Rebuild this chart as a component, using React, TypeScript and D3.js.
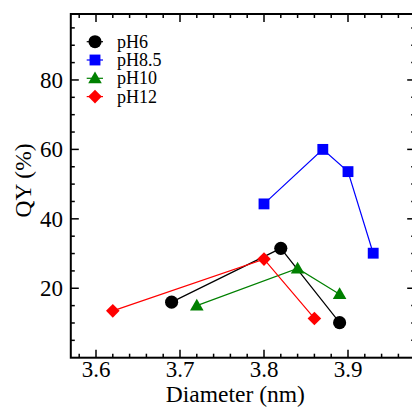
import React, { useEffect, useRef } from 'react';
import * as d3 from 'd3';

// values
const seriesNames = ['pH6', 'pH8.5', 'pH10', 'pH12'];
const seriesColors = ['#000000', '#0000ff', '#008000', '#ff0000'];
const seriesSymbols = ['circle', 'square', 'triangle', 'diamond'];

const ph6Diameter = [3.69, 3.82, 3.89];
const ph6QY = [16.0, 31.5, 10.1];
const ph85Diameter = [3.8, 3.87, 3.9, 3.93];
const ph85QY = [44.3, 60.0, 53.6, 30.1];
const ph10Diameter = [3.72, 3.84, 3.89];
const ph10QY = [15.0, 25.7, 18.3];
const ph12Diameter = [3.62, 3.8, 3.86];
const ph12QY = [13.5, 28.4, 11.3];

const xTickValues = [3.6, 3.7, 3.8, 3.9];
const yTickValues = [20, 40, 60, 80];

const W = 412;
const H = 407;
const FONT = '"Liberation Serif", "Times New Roman", Times, serif';

const symbolPath = (kind: string) => {
  if (kind === 'circle') return d3.symbol().type(d3.symbolCircle).size(135)();
  if (kind === 'square') return d3.symbol().type(d3.symbolSquare).size(118)();
  if (kind === 'triangle') return d3.symbol().type(d3.symbolTriangle).size(80)();
  // square turned 45 degrees
  return d3.symbol().type(d3.symbolDiamond2).size(118)();
};

const App = () => {
  const svgRef = useRef<SVGSVGElement>(null);

  useEffect(() => {
    const svg = d3.select(svgRef.current);
    svg.selectAll('*').remove();

    const left = 70.8, top = 14, bottom = 357.7;
    const x = d3.scaleLinear().domain([3.57, 3.98]).range([left, 415.2]);
    const y = d3.scaleLinear().domain([0, 99]).range([bottom, top]);
    const right = x(3.98);

    const series = [
      { xs: ph6Diameter, ys: ph6QY },
      { xs: ph85Diameter, ys: ph85QY },
      { xs: ph10Diameter, ys: ph10QY },
      { xs: ph12Diameter, ys: ph12QY },
    ].map((s, i) => ({
      name: seriesNames[i],
      color: seriesColors[i],
      symbol: seriesSymbols[i],
      points: s.xs.map((d, j) => [d, s.ys[j]] as [number, number]),
    }));

    const g = svg.append('g');

    // minor/major ticks, pointing inward on all four sides
    const xMinor = d3.range(3.58, 3.981, 0.02).filter(v => !xTickValues.some(t => Math.abs(t - v) < 1e-6));
    const yMinor = d3.range(5, 99, 5).filter(v => !yTickValues.includes(v));
    const tick = (x1: number, y1: number, x2: number, y2: number) =>
      g.append('line').attr('x1', x1).attr('y1', y1).attr('x2', x2).attr('y2', y2)
        .attr('stroke', '#000').attr('stroke-width', 1.5);

    xMinor.forEach(v => { tick(x(v), bottom, x(v), bottom - 4); tick(x(v), top, x(v), top + 4); });
    xTickValues.forEach(v => { tick(x(v), bottom, x(v), bottom - 8); tick(x(v), top, x(v), top + 8); });
    yMinor.forEach(v => { tick(left, y(v), left + 4, y(v)); tick(right, y(v), right - 4, y(v)); });
    yTickValues.forEach(v => { tick(left, y(v), left + 8, y(v)); tick(right, y(v), right - 8, y(v)); });

    g.append('rect')
      .attr('x', left).attr('y', top)
      .attr('width', right - left).attr('height', bottom - top)
      .attr('fill', 'none').attr('stroke', '#000').attr('stroke-width', 2);

    // tick labels
    g.selectAll('.xl').data(xTickValues).enter().append('text')
      .attr('x', d => x(d)).attr('y', 377)
      .attr('text-anchor', 'middle')
      .style('font-family', FONT).style('font-size', '23px')
      .text(d => d.toFixed(1));
    g.selectAll('.yl').data(yTickValues).enter().append('text')
      .attr('x', 63).attr('y', d => y(d) + 8)
      .attr('text-anchor', 'end')
      .style('font-family', FONT).style('font-size', '23px')
      .text(d => d);

    // axis titles
    g.append('text')
      .attr('x', (165.7 + 305) / 2).attr('y', 402)
      .attr('text-anchor', 'middle')
      .style('font-family', FONT).style('font-size', '23.5px')
      .text('Diameter (nm)');
    g.append('text')
      .attr('transform', 'translate(31,180.5) rotate(-90)')
      .attr('text-anchor', 'middle')
      .style('font-family', FONT).style('font-size', '23.5px')
      .text('QY (%)');

    // series lines + markers
    const line = d3.line<[number, number]>().x(d => x(d[0])).y(d => y(d[1]));
    series.forEach(s => {
      g.append('path').attr('d', line(s.points)).attr('fill', 'none')
        .attr('stroke', s.color).attr('stroke-width', 1.2);
    });
    series.forEach(s => {
      g.selectAll(null).data(s.points).enter().append('path')
        .attr('d', symbolPath(s.symbol))
        .attr('transform', d => `translate(${x(d[0])},${y(d[1]) + (s.symbol === 'triangle' ? 1 : 0)})`)
        .attr('fill', s.color);
    });

    // legend
    series.forEach((s, i) => {
      const ly = 41.7 + i * 18.3;
      const lg = g.append('g');
      lg.append('line').attr('x1', 86.7).attr('x2', 103).attr('y1', ly).attr('y2', ly)
        .attr('stroke', s.color).attr('stroke-width', 1.2);
      lg.append('path').attr('d', symbolPath(s.symbol))
        .attr('transform', `translate(95,${ly + (s.symbol === 'triangle' ? 1 : 0)})`)
        .attr('fill', s.color);
      lg.append('text').attr('x', 117).attr('y', ly + 6)
        .style('font-family', FONT).style('font-size', '18px')
        .text(s.name);
    });
  }, []);

  return (
    <svg ref={svgRef} width={W} height={H}
      style={{ position: 'absolute', left: 0, top: 0, background: '#fff' }} />
  );
};

export default App;
